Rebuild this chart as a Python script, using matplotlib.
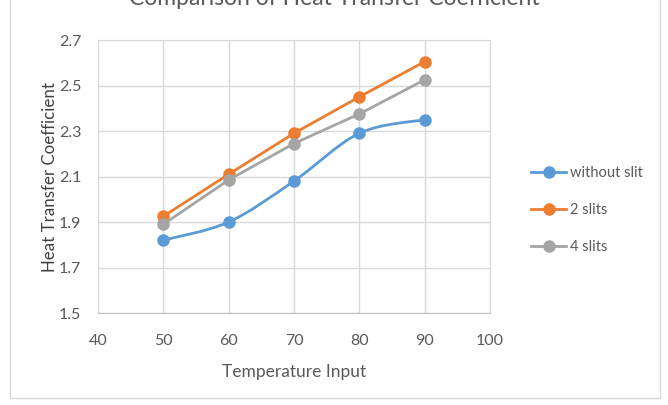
"""Heat transfer coefficient vs temperature input, three slit configurations."""

import matplotlib

matplotlib.use("Agg")
import matplotlib.pyplot as plt
from matplotlib.patches import PathPatch, Rectangle
from matplotlib.path import Path

temperature = [50, 60, 70, 80, 90]
without_slit = [1.82, 1.90, 2.08, 2.29, 2.35]
two_slits = [1.925, 2.11, 2.29, 2.45, 2.605]
four_slits = [1.89, 2.085, 2.245, 2.375, 2.525]

x_ticks = [40, 50, 60, 70, 80, 90, 100]
y_ticks = [1.5, 1.7, 1.9, 2.1, 2.3, 2.5, 2.7]

BLUE = "#5B9BD5"
ORANGE = "#ED7D31"
GRAY = "#A5A5A5"
TEXT = "#595959"

plt.rcParams["font.family"] = ["Lato", "DejaVu Sans"]


def smooth_path(xs, ys, tension=1 / 6):
    """Catmull-Rom style bezier through the points (Excel 'smoothed line')."""
    verts = [(xs[0], ys[0])]
    codes = [Path.MOVETO]
    n = len(xs)
    for i in range(n - 1):
        x0, y0 = (xs[i - 1], ys[i - 1]) if i > 0 else (xs[i], ys[i])
        x1, y1 = xs[i], ys[i]
        x2, y2 = xs[i + 1], ys[i + 1]
        x3, y3 = (xs[i + 2], ys[i + 2]) if i + 2 < n else (x2, y2)
        c1 = (x1 + (x2 - x0) * tension, y1 + (y2 - y0) * tension)
        c2 = (x2 - (x3 - x1) * tension, y2 - (y3 - y1) * tension)
        verts += [c1, c2, (x2, y2)]
        codes += [Path.CURVE4] * 3
    return Path(verts, codes)


fig = plt.figure(figsize=(6.68, 4.05), dpi=100)
fig.patches.append(
    Rectangle((10 / 668, 7 / 405), 650 / 668, 1.1, transform=fig.transFigure,
              fill=False, edgecolor="#D9D9D9", linewidth=1.0)
)
ax = fig.add_axes([98 / 668, 1 - 313 / 405, 392 / 668, 273 / 405])

lw = 2.0
ms = 8
# blue series drawn as a smoothed curve, markers on top
ax.add_patch(PathPatch(smooth_path(temperature, without_slit), fill=False,
                       edgecolor=BLUE, linewidth=lw, capstyle="round", zorder=3))
ax.plot(temperature, without_slit, "o", color=BLUE, markersize=ms, zorder=4)
ax.plot([], [], "o-", color=BLUE, lw=lw, markersize=ms, label="without slit")
ax.plot(temperature, two_slits, "o-", color=ORANGE, lw=lw, markersize=ms,
        label="2 slits", zorder=4)
ax.plot(temperature, four_slits, "o-", color=GRAY, lw=lw, markersize=ms,
        label="4 slits", zorder=4)

ax.set_xlim(40, 100)
ax.set_ylim(1.5, 2.7)
ax.set_xticks(x_ticks)
ax.set_yticks(y_ticks)
ax.set_yticklabels([f"{v:.1f}" for v in y_ticks])
ax.grid(True, color="#D9D9D9", linewidth=1.0)
ax.set_axisbelow(True)
for side in ax.spines.values():
    side.set_color("#D9D9D9")
ax.spines["bottom"].set_color("#BFBFBF")
ax.tick_params(length=0, labelsize=11.5, colors=TEXT)
ax.tick_params(axis="x", pad=15)
ax.tick_params(axis="y", pad=12)

ax.set_xlabel("Temperature Input", fontsize=12.5, color=TEXT, labelpad=12)
ax.set_ylabel("Heat Transfer Coefficient", fontsize=12.2, color="#404040",
              labelpad=1)

fig.text(0.5, 1 - 5 / 405, "Comparison of Heat Transfer Coefficient",
         ha="center", va="baseline", fontsize=16.5, color=TEXT)

fig.legend(loc="center left", bbox_to_anchor=(518 / 668, 1 - 210 / 405),
           frameon=False, fontsize=10.5, labelcolor=TEXT, handlelength=2.4,
           labelspacing=1.55, handletextpad=0.25)

fig.savefig("out.png", dpi=100)
